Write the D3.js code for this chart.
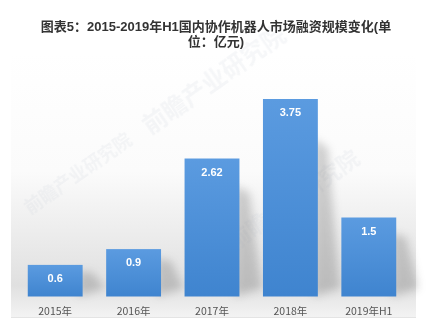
<!DOCTYPE html>
<html>
<head>
<meta charset="utf-8">
<script src="https://cdn.jsdelivr.net/npm/d3@7"></script>
<style>
  html, body { margin: 0; padding: 0; background: #fff; }
  svg { display: block; }
</style>
</head>
<body>
<div id="chart"></div>
<script>
// Financing scale of domestic collaborative robots, 100 million yuan
const categories = ["2015年", "2016年", "2017年", "2018年", "2019年H1"];
const values = [0.6, 0.9, 2.62, 3.75, 1.5];
const titleLines = ["图表5：2015-2019年H1国内协作机器人市场融资规模变化(单", "位：亿元)"];

const W = 426, H = 326;
const svg = d3.select("#chart").append("svg").attr("width", W).attr("height", H);
const defs = svg.append("defs");

const bg = defs.append("linearGradient").attr("id", "bg").attr("x1", 0).attr("y1", 0).attr("x2", 0).attr("y2", 1);
bg.append("stop").attr("offset", "0%").attr("stop-color", "#ffffff");
bg.append("stop").attr("offset", "45%").attr("stop-color", "#fbfbfb");
bg.append("stop").attr("offset", "88%").attr("stop-color", "#e0e0e0");
bg.append("stop").attr("offset", "100%").attr("stop-color", "#f3f3f3");

const barGrad = defs.append("linearGradient").attr("id", "barGrad").attr("x1", 0).attr("y1", 0).attr("x2", 0).attr("y2", 1);
barGrad.append("stop").attr("offset", "0%").attr("stop-color", "#5b9be0");
barGrad.append("stop").attr("offset", "100%").attr("stop-color", "#3f84cf");

defs.append("filter").attr("id", "blur").attr("x", "-50%").attr("y", "-50%").attr("width", "200%").attr("height", "200%")
  .append("feGaussianBlur").attr("stdDeviation", 4);

const plot = { left: 11, right: 416, top: 52, bottom: 317 };
const baseY = 296.5;

svg.append("rect")
  .attr("x", plot.left).attr("y", plot.top)
  .attr("width", plot.right - plot.left).attr("height", plot.bottom - plot.top)
  .attr("fill", "url(#bg)");

svg.append("line")
  .attr("x1", plot.left).attr("x2", plot.right)
  .attr("y1", plot.bottom + 0.5).attr("y2", plot.bottom + 0.5)
  .attr("stroke", "#e4e4e4");

// Faint brand watermark
const wm = svg.append("g").attr("fill", "#c5ccd6").attr("opacity", 0.16)
  .attr("font-family", "'Noto Sans CJK SC', sans-serif").attr("font-weight", "bold");
[[150, 135, 24], [30, 215, 18], [235, 250, 22]].forEach(([x, y, s]) => {
  wm.append("text").attr("transform", `translate(${x},${y}) rotate(-35)`)
    .attr("font-size", s).text("前瞻产业研究院");
});

const x = d3.scaleBand().domain(categories).range([16, 408]).paddingInner(0.3).paddingOuter(0.15);
const y = d3.scaleLinear().domain([0, 3.75]).range([baseY, 99]);

// Perspective shadows behind the bars
svg.append("g").selectAll("path").data(values).join("path")
  .attr("d", (d, i) => {
    const x0 = x(categories[i]), x1 = x0 + x.bandwidth(), top = y(d);
    const h = baseY - top;
    return `M${x1 - 4},${baseY} L${x1 + 22},${baseY - 8} L${x1 + 10},${top + h * 0.25} L${x1 - 4},${top + h * 0.2} Z`;
  })
  .attr("fill", "#7a7a7a").attr("opacity", 0.35).attr("filter", "url(#blur)");

svg.append("g").selectAll("rect").data(values).join("rect")
  .attr("x", (d, i) => x(categories[i]))
  .attr("y", d => y(d))
  .attr("width", x.bandwidth())
  .attr("height", d => baseY - y(d))
  .attr("fill", "url(#barGrad)");

svg.append("g").selectAll("text").data(values).join("text")
  .attr("x", (d, i) => x(categories[i]) + x.bandwidth() / 2)
  .attr("y", d => y(d) + 17)
  .attr("text-anchor", "middle")
  .attr("font-family", "'Liberation Sans', Arial, sans-serif")
  .attr("font-weight", "bold").attr("font-size", 11)
  .attr("fill", "#ffffff")
  .text(d => d);

const xAxis = svg.append("g").attr("transform", `translate(0,${baseY})`)
  .call(d3.axisBottom(x).tickSize(0).tickPadding(11));
xAxis.select(".domain").remove();
xAxis.selectAll("text")
  .attr("font-family", "'Noto Sans CJK SC', 'Liberation Sans', sans-serif")
  .attr("font-size", 10.5).attr("fill", "#555");

// Two-line title
svg.append("g").selectAll("text").data(titleLines).join("text")
  .attr("x", 216)
  .attr("y", (d, i) => 31 + i * 15)
  .attr("text-anchor", "middle")
  .attr("font-family", "'Liberation Sans', 'Noto Sans CJK SC', sans-serif")
  .attr("font-weight", "bold").attr("font-size", 13).attr("fill", "#333")
  .text(d => d);
</script>
</body>
</html>
